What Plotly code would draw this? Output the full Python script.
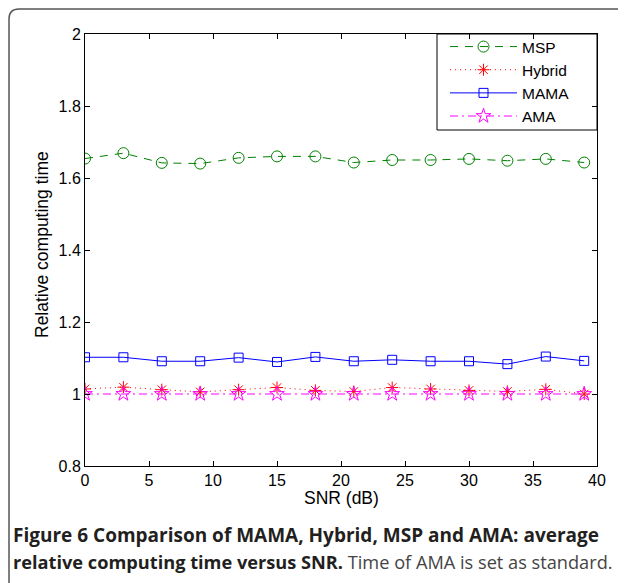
import plotly.graph_objects as go

# ---- data ----
snr = [0, 3, 6, 9, 12, 15, 18, 21, 24, 27, 30, 33, 36, 39]
msp = [1.654, 1.669, 1.642, 1.640, 1.656, 1.660, 1.660, 1.643, 1.650, 1.650, 1.653, 1.648, 1.653, 1.643]
hybrid = [1.014, 1.019, 1.012, 1.006, 1.012, 1.018, 1.010, 1.007, 1.018, 1.014, 1.010, 1.007, 1.013, 1.000]
mama = [1.102, 1.102, 1.091, 1.091, 1.101, 1.089, 1.103, 1.091, 1.095, 1.091, 1.091, 1.083, 1.104, 1.092]
ama = [1.000] * 14

x_ticks = [0, 5, 10, 15, 20, 25, 30, 35, 40]
y_ticks = [0.8, 1.0, 1.2, 1.4, 1.6, 1.8, 2.0]
y_tick_labels = ["0.8", "1", "1.2", "1.4", "1.6", "1.8", "2"]

# page offset from the default body margin
OFF = 8
W, H = 626 - OFF, 583 - OFF
# plot area in page pixels: x 85..597, y 34..466
L, T = 85 - OFF, 34 - OFF
PW, PH = 512, 432
R = W - L - PW
B = H - T - PH

def px(xp):
    return (xp - OFF - L) / PW

def py(yp):
    return (T + PH - (yp - OFF)) / PH

TICK_FONT = dict(family="Liberation Sans, Arial, sans-serif", size=16, color="#000000")
TITLE_FONT = dict(family="Liberation Sans, Arial, sans-serif", size=17.5, color="#000000")

fig = go.Figure()
fig.add_trace(go.Scatter(
    x=snr, y=msp, name="MSP", mode="lines+markers",
    line=dict(color="#008000", width=1, dash="8px,7px"),
    marker=dict(symbol="circle-open", size=11, color="#008000", line=dict(width=1, color="#008000")),
))
fig.add_trace(go.Scatter(
    x=snr, y=hybrid, name="Hybrid", mode="lines+markers",
    line=dict(color="#ff0000", width=1, dash="1px,4px"),
    marker=dict(symbol="asterisk-open", size=10, color="#ff0000", line=dict(width=1, color="#ff0000")),
))
fig.add_trace(go.Scatter(
    x=snr, y=mama, name="MAMA", mode="lines+markers",
    line=dict(color="#0000ff", width=1),
    marker=dict(symbol="square-open", size=9, color="#0000ff", line=dict(width=1, color="#0000ff")),
))
fig.add_trace(go.Scatter(
    x=snr, y=ama, name="AMA", mode="lines+markers",
    line=dict(color="#ff00ff", width=1, dash="8px,4px,2px,4px"),
    marker=dict(symbol="star-open", size=11, color="#ff00ff", line=dict(width=1, color="#ff00ff")),
))

# outer rounded frame (page coords 9,9 -> beyond right/bottom)
x0, y0 = px(9), py(9)
x1, y1 = px(650), py(600)
rx, ry = 10 / PW, 10 / PH
frame_path = f"M {x0} {y1} L {x0} {y0 - ry} Q {x0} {y0} {x0 + rx} {y0} L {x1} {y0}"

fig.update_layout(
    width=W, height=H,
    margin=dict(l=L, r=R, t=T, b=B),
    paper_bgcolor="white", plot_bgcolor="white",
    font=TICK_FONT,
    showlegend=True,
    legend=dict(
        x=px(445), y=py(30), xanchor="left", yanchor="top",
        bgcolor="rgba(0,0,0,0)", borderwidth=0,
        font=dict(family="Liberation Sans, Arial, sans-serif", size=15.5, color="#000000"),
        itemwidth=67, tracegroupgap=0,
    ),
    xaxis=dict(
        range=[0, 40], tickvals=x_ticks, ticks="inside", ticklen=5, tickcolor="black",
        showline=True, linecolor="black", linewidth=1, mirror="ticks",
        showgrid=False, zeroline=False, tickfont=TICK_FONT,
    ),
    yaxis=dict(
        range=[0.8, 2.0], tickvals=y_ticks, ticktext=y_tick_labels, ticks="inside", ticklen=5,
        tickcolor="black", showline=True, linecolor="black", linewidth=1, mirror="ticks",
        showgrid=False, zeroline=False, tickfont=TICK_FONT,
    ),
    shapes=[
        dict(type="path", xref="paper", yref="paper", path=frame_path,
             line=dict(color="#555555", width=1.5), layer="above"),
        dict(type="rect", xref="paper", yref="paper",
             x0=px(437), x1=px(597), y0=py(130), y1=py(34),
             line=dict(color="black", width=1), fillcolor="white", layer="below"),
    ],
    annotations=[
        dict(xref="paper", yref="paper", x=px(341), y=py(498), xanchor="center", yanchor="middle",
             showarrow=False, text="SNR (dB)", font=TITLE_FONT),
        dict(xref="paper", yref="paper", x=px(42), y=py(245), xanchor="center", yanchor="middle",
             showarrow=False, text="Relative computing time", textangle=-90, font=TITLE_FONT),
        dict(xref="paper", yref="paper", x=px(11), y=py(535), xanchor="left", yanchor="middle",
             showarrow=False, align="left",
             text="<b>Figure 6 Comparison of MAMA, Hybrid, MSP and AMA: average</b>",
             font=dict(family="Open Sans, sans-serif", size=19, color="#231f20")),
        dict(xref="paper", yref="paper", x=px(11), y=py(562), xanchor="left", yanchor="middle",
             showarrow=False, align="left",
             text="<b>relative computing time versus SNR.</b> <span style='color:#444444'>Time of AMA is set as standard.</span>",
             font=dict(family="Open Sans, sans-serif", size=18.2, color="#231f20")),
    ],
)

fig.write_html("out.html")
